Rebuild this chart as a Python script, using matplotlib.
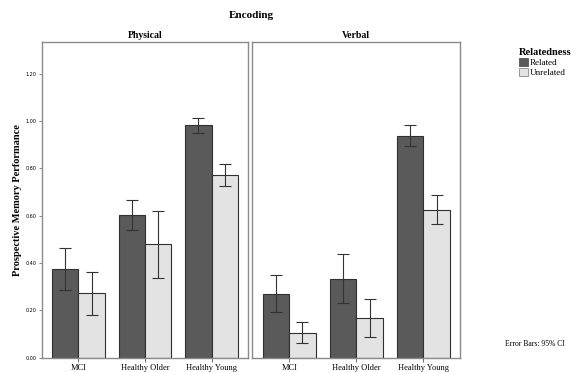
import matplotlib
matplotlib.use("Agg")
import matplotlib.pyplot as plt
import numpy as np
from matplotlib.patches import Patch

groups = ["MCI", "Healthy Older", "Healthy Young"]
panels = ["Physical", "Verbal"]
series = ["Related", "Unrelated"]

# Physical
phys_rel = [0.375, 0.603, 0.984]
phys_rel_lo = [0.285, 0.540, 0.950]
phys_rel_hi = [0.465, 0.668, 1.012]
phys_unr = [0.272, 0.480, 0.772]
phys_unr_lo = [0.179, 0.338, 0.727]
phys_unr_hi = [0.364, 0.620, 0.817]
# Verbal
verb_rel = [0.270, 0.333, 0.938]
verb_rel_lo = [0.195, 0.230, 0.893]
verb_rel_hi = [0.350, 0.437, 0.983]
verb_unr = [0.105, 0.166, 0.625]
verb_unr_lo = [0.060, 0.087, 0.566]
verb_unr_hi = [0.150, 0.246, 0.686]

yticks = [0.0, 0.2, 0.4, 0.6, 0.8, 1.0, 1.2]
ytick_labels = ["0.00", "0.20", "0.40", "0.60", "0.80", "1.00", "1.20"]

col_rel = "#5a5a5a"
col_unr = "#e3e3e3"
frame_col = "#8a8a8a"
serif = ["Liberation Serif", "DejaVu Serif"]

W, H = 576, 372
fig = plt.figure(figsize=(W / 100, H / 100), dpi=100)

def ax_rect(x0, x1, y0, y1):
    return [x0 / W, 1 - y1 / H, (x1 - x0) / W, (y1 - y0) / H]

axL = fig.add_axes(ax_rect(41.7, 248.3, 41.7, 357.7))
axR = fig.add_axes(ax_rect(252.3, 460.3, 41.7, 357.7))

data = [
    (phys_rel, phys_rel_lo, phys_rel_hi, phys_unr, phys_unr_lo, phys_unr_hi),
    (verb_rel, verb_rel_lo, verb_rel_hi, verb_unr, verb_unr_lo, verb_unr_hi),
]

x = np.arange(len(groups))
bw = 0.395
for ax, name, d in zip([axL, axR], panels, data):
    rel, rlo, rhi, unr, ulo, uhi = d
    rel = np.array(rel); unr = np.array(unr)
    ax.bar(x - bw / 2, rel, bw, color=col_rel, edgecolor="#303030", linewidth=0.8, zorder=2)
    ax.bar(x + bw / 2, unr, bw, color=col_unr, edgecolor="#303030", linewidth=0.8, zorder=2)
    ax.errorbar(x - bw / 2, rel, yerr=[rel - np.array(rlo), np.array(rhi) - rel],
                fmt="none", ecolor="#333333", elinewidth=0.8, capsize=4, capthick=0.8, zorder=3)
    ax.errorbar(x + bw / 2, unr, yerr=[unr - np.array(ulo), np.array(uhi) - unr],
                fmt="none", ecolor="#333333", elinewidth=0.8, capsize=4, capthick=0.8, zorder=3)
    ax.set_xlim(-0.55, 2.55)
    ax.set_ylim(0, 1.335)
    ax.set_xticks(x)
    ax.set_xticklabels(groups, fontsize=6, family=serif)
    ax.tick_params(axis="x", length=3, width=0.6, color="#555555", pad=1.5)
    for s in ax.spines.values():
        s.set_color(frame_col)
        s.set_linewidth(1.0)
    ax.set_title(name, fontsize=7, fontweight="bold", family=serif, pad=3)

axL.set_yticks(yticks)
axL.set_yticklabels(ytick_labels, fontsize=3.5)
axL.tick_params(axis="y", length=2.5, width=0.5, color="#555555", pad=1)
axR.set_yticks([])
axL.set_ylabel("Prospective Memory Performance", fontsize=7.5, fontweight="bold",
               family=serif, labelpad=3)

fig.text(251 / W, 1 - 16 / H, "Encoding", ha="center", va="center",
         fontsize=8, fontweight="bold", family=serif)

handles = [Patch(facecolor=col_rel, edgecolor="#555555", linewidth=0.6, label="Related"),
           Patch(facecolor=col_unr, edgecolor="#888888", linewidth=0.6, label="Unrelated")]
leg = fig.legend(handles=handles, loc="upper left", bbox_to_anchor=(513 / W, 1 - 42 / H),
                 frameon=False, prop={"family": serif, "size": 6.5},
                 title="Relatedness", handlelength=1.0, handleheight=1.0,
                 handletextpad=0.15, labelspacing=0.1, borderpad=0.2)
leg.get_title().set_fontproperties({"family": serif, "size": 7.5, "weight": "bold"})
leg._legend_box.align = "left"

fig.text(535 / W, 1 - 344 / H, "Error Bars: 95% CI", ha="center", va="center",
         fontsize=5.5, family=serif)

fig.savefig("out.png", dpi=100)
